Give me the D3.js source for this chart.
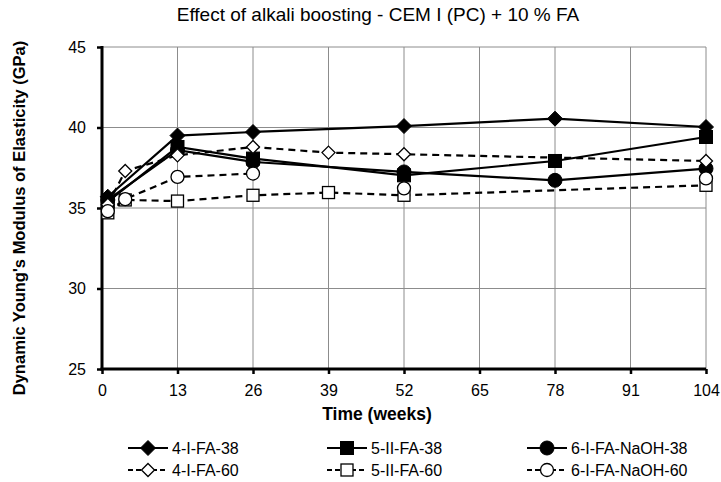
<!DOCTYPE html>
<html><head><meta charset="utf-8">
<script src="https://cdn.jsdelivr.net/npm/d3@7"></script>
<style>body{margin:0;background:#fff}svg{display:block;font-family:Arial,"Liberation Sans",sans-serif}</style>
</head><body><svg id="c" width="721" height="482"></svg>
<script>
const weeks = [1, 4, 13, 26, 39, 52, 78, 104];
const xTicks = [0, 13, 26, 39, 52, 65, 78, 91, 104];
const yTicks = [25, 30, 35, 40, 45];
const s4_38   = [35.7, null, 39.5, 39.72, null, 40.09, 40.55, 40.03];
const s5_38   = [35.4, null, 38.79, 38.07, null, 37.03, 37.92, 39.41];
const s6_38   = [35.5, null, 38.6, 37.86, null, 37.24, 36.72, 37.45];
const s4_60   = [35.2, 37.3, 38.27, 38.79, 38.44, 38.34, null, 37.92];
const s5_60   = [34.7, 35.5, 35.43, 35.79, 35.96, 35.79, null, 36.41];
const s6_60   = [34.8, 35.55, 36.93, 37.14, null, 36.22, null, 36.84];
const seriesNames = ["4-I-FA-38","5-II-FA-38","6-I-FA-NaOH-38","4-I-FA-60","5-II-FA-60","6-I-FA-NaOH-60"];

const series = [
  {name: seriesNames[0], vals: s4_38, shape: "diamond", filled: true,  dash: null, gap: false},
  {name: seriesNames[1], vals: s5_38, shape: "square",  filled: true,  dash: null, gap: false},
  {name: seriesNames[2], vals: s6_38, shape: "circle",  filled: true,  dash: null, gap: false},
  {name: seriesNames[3], vals: s4_60, shape: "diamond", filled: false, dash: "7,5", gap: false},
  {name: seriesNames[4], vals: s5_60, shape: "square",  filled: false, dash: "7,5", gap: false},
  {name: seriesNames[5], vals: s6_60, shape: "circle",  filled: false, dash: "7,5", gap: true}
];

const svg = d3.select("#c");
const L = 102, R = 706, T = 47, B = 369;
const x = d3.scaleLinear().domain([0, 104]).range([L, R]);
const y = d3.scaleLinear().domain([25, 45]).range([B, T]);

// title
svg.append("text").attr("x", 378).attr("y", 21).attr("text-anchor", "middle")
  .attr("font-size", 19).text("Effect of alkali boosting - CEM I (PC) + 10 % FA");

// grid
const g = svg.append("g");
g.selectAll(".hg").data(yTicks.filter(d => d > 25)).enter().append("line")
  .attr("x1", L).attr("x2", R).attr("y1", d => y(d)).attr("y2", d => y(d))
  .attr("stroke", "#8c8c8c").attr("stroke-width", 1);
g.selectAll(".vg").data(xTicks.filter(d => d > 0)).enter().append("line")
  .attr("x1", d => x(d)).attr("x2", d => x(d)).attr("y1", T).attr("y2", B)
  .attr("stroke", "#8c8c8c").attr("stroke-width", 1);

// axes
const yAxis = d3.axisLeft(y).tickValues(yTicks).tickSize(5).tickPadding(11);
const xAxis = d3.axisBottom(x).tickValues(xTicks).tickSize(5).tickPadding(11);
const ya = svg.append("g").attr("transform", `translate(${L},0)`).call(yAxis);
const xa = svg.append("g").attr("transform", `translate(0,${B})`).call(xAxis);
[ya, xa].forEach(a => {
  a.select(".domain").remove();
  a.selectAll(".tick line").attr("stroke", "#000").attr("stroke-width", 2.5);
  a.selectAll(".tick text").attr("font-size", 16).attr("fill", "#000").attr("font-family", "Arial, Liberation Sans, sans-serif");
});
svg.append("line").attr("x1", L).attr("x2", L).attr("y1", T - 1).attr("y2", B + 1.5).attr("stroke", "#000").attr("stroke-width", 3);
svg.append("line").attr("x1", L - 1.5).attr("x2", R).attr("y1", B).attr("y2", B).attr("stroke", "#000").attr("stroke-width", 3);

// axis titles
svg.append("text").attr("x", 377).attr("y", 420).attr("text-anchor", "middle")
  .attr("font-size", 17.5).attr("font-weight", "bold").text("Time (weeks)");
svg.append("text").attr("transform", `translate(25,218) rotate(-90)`).attr("text-anchor", "middle")
  .attr("font-size", 16.5).attr("font-weight", "bold").text("Dynamic Young's Modulus of Elasticity (GPa)");

function marker(sel, s, cx, cy) {
  const fill = s.filled ? "#000" : "#fff";
  const sw = s.filled ? 1 : 1.3;
  if (s.shape === "diamond") {
    const r = s.filled ? 7.5 : 6.5;
    sel.append("path").attr("d", `M${cx},${cy - r}L${cx + r},${cy}L${cx},${cy + r}L${cx - r},${cy}Z`)
      .attr("fill", fill).attr("stroke", "#000").attr("stroke-width", sw);
  } else if (s.shape === "square") {
    const h = s.filled ? 6.5 : 6;
    sel.append("rect").attr("x", cx - h).attr("y", cy - h).attr("width", 2 * h).attr("height", 2 * h)
      .attr("fill", fill).attr("stroke", "#000").attr("stroke-width", sw);
  } else {
    sel.append("circle").attr("cx", cx).attr("cy", cy).attr("r", s.filled ? 7 : 6.5)
      .attr("fill", fill).attr("stroke", "#000").attr("stroke-width", sw);
  }
}

const plot = svg.append("g");
series.forEach(s => {
  let pts = weeks.map((w, i) => ({w, v: s.vals[i]}));
  if (!s.gap) pts = pts.filter(p => p.v !== null);
  const line = d3.line().defined(p => p.v !== null).x(p => x(p.w)).y(p => y(p.v));
  plot.append("path").attr("d", line(pts)).attr("fill", "none").attr("stroke", "#000")
    .attr("stroke-width", 2.2).attr("stroke-dasharray", s.dash);
  const mg = plot.append("g");
  pts.filter(p => p.v !== null).forEach(p => marker(mg, s, x(p.w), y(p.v)));
});

// legend
const colX = [128, 327, 527];
const rowY = [448, 470];
series.forEach((s, i) => {
  const cx = colX[i % 3], cy = rowY[Math.floor(i / 3)];
  const lg = svg.append("g");
  lg.append("line").attr("x1", cx).attr("x2", cx + 40).attr("y1", cy).attr("y2", cy)
    .attr("stroke", "#000").attr("stroke-width", 2.2).attr("stroke-dasharray", s.dash ? "5,3" : null);
  marker(lg, s, cx + 20, cy);
  lg.append("text").attr("x", cx + 44).attr("y", cy + 5.5).attr("font-size", 16).text(s.name);
});
</script></body></html>
